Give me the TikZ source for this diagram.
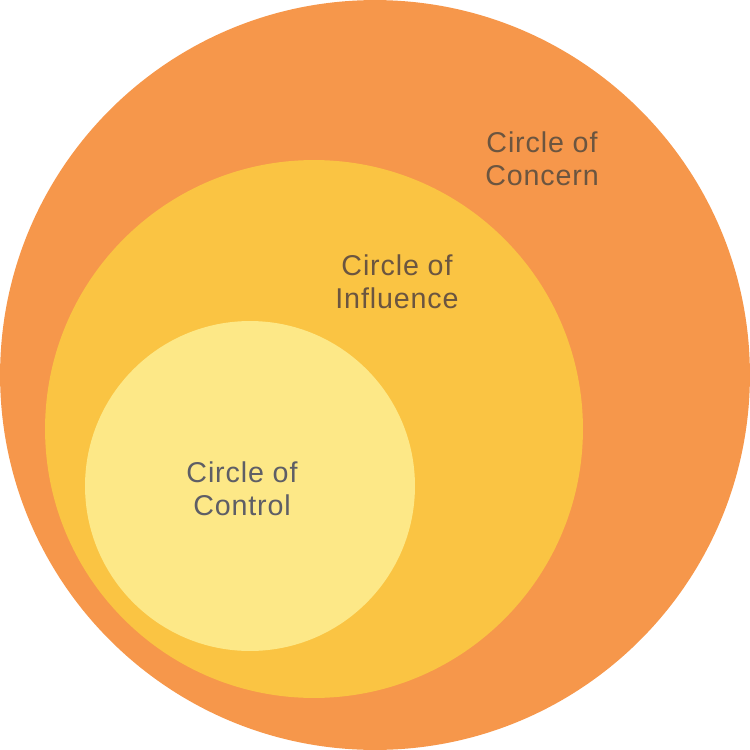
\documentclass[tikz,border=0pt]{standalone}
\usepackage{fontspec}
\setmainfont{Liberation Sans}[LetterSpace=3]
\usepackage{tikz}

\definecolor{concern}{HTML}{F6974B}
\definecolor{influence}{HTML}{FAC443}
\definecolor{control}{HTML}{FDE887}
\definecolor{browntext}{HTML}{6B5540}
\definecolor{graytext}{HTML}{5E5E66}

\begin{document}
\begin{tikzpicture}[
    x = 0.02cm,
    y = -0.02cm,
    ]

    \tikzstyle{disc}=[
    circle,
    draw = none,
    inner sep = 0pt,
    ]

    \tikzstyle{label}=[
    align = center,
    inner sep = 0pt,
    font = \fontsize{16.3}{18.7}\selectfont,
    ]

    \useasboundingbox (0,0) rectangle (750,750);

    \node[disc, fill=concern, minimum size=15cm] (c1) at (375,375) {};
    \node[disc, fill=influence, minimum size=10.76cm] (c2) at (314,429) {};
    \node[disc, fill=control, minimum size=6.6cm] (c3) at (250,486) {};

    \node[label, text=browntext] (t1) at (542,159) {Circle of\\Concern};
    \node[label, text=browntext] (t2) at (397,282) {Circle of\\Influence};
    \node[label, text=graytext] (t3) at (242,489) {Circle of\\Control};
  \end{tikzpicture}
\end{document}
